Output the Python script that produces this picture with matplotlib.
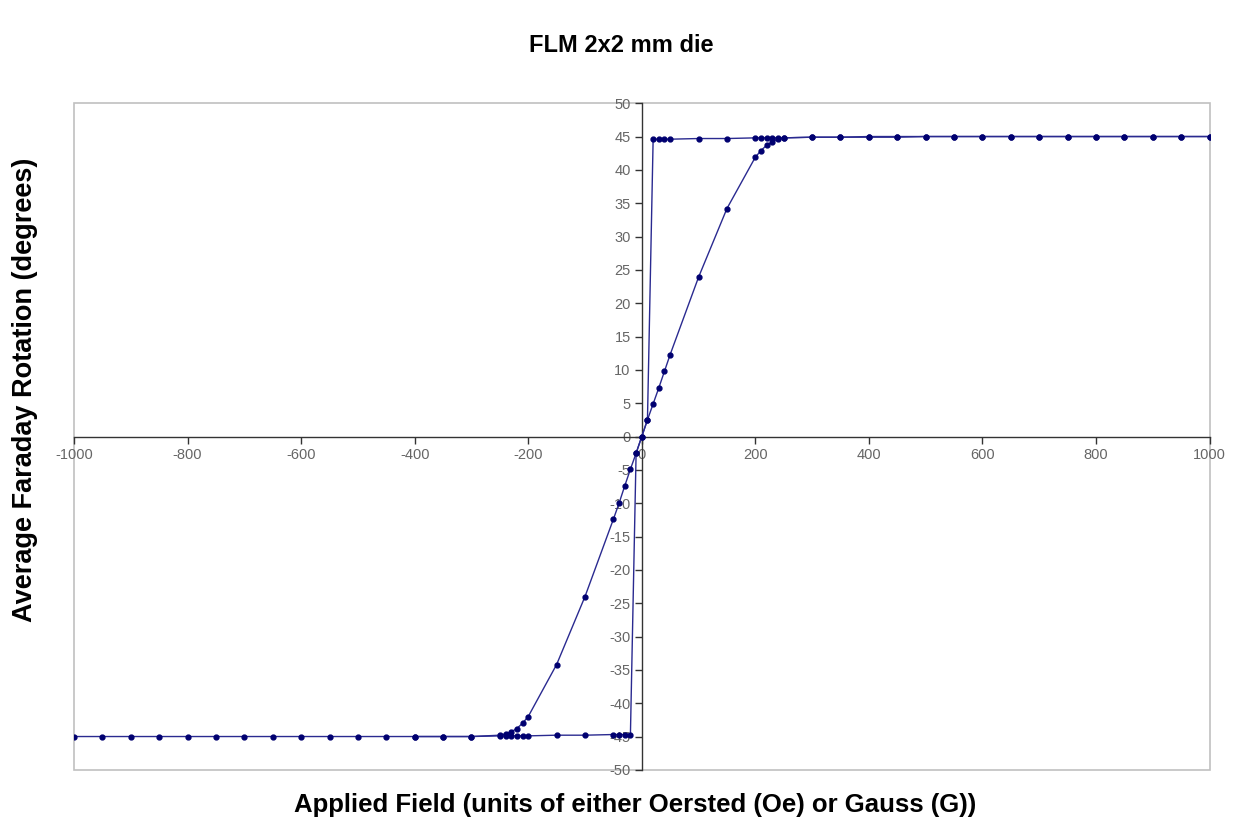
import numpy as np
import matplotlib
matplotlib.use('Agg')
import matplotlib.pyplot as plt
from matplotlib.patches import Rectangle

plt.rcParams['font.family'] = ['Liberation Sans', 'DejaVu Sans']
plt.rcParams['axes.unicode_minus'] = False

###############################################################################

# branch that follows the smooth curve through the origin (-1000 -> +1000)
curve_field = [-1000, -950, -900, -850, -800, -750, -700, -650, -600, -550,
               -500, -450, -400, -350, -300, -250, -240, -230, -220, -210,
               -200, -150, -100, -50, -40, -30, -20, -10, 0, 10, 20, 30, 40,
               50, 100, 150, 200, 210, 220, 230, 240, 250, 300, 350, 400,
               450, 500, 550, 600, 650, 700, 750, 800, 850, 900, 950, 1000]
curve_rot = [-45.0, -45.0, -45.0, -45.0, -45.0, -45.0, -45.0, -45.0, -45.0,
             -45.0, -45.0, -45.0, -45.0, -45.0, -45.0, -44.8, -44.6, -44.3,
             -43.8, -43.0, -42.0, -34.2, -24.0, -12.4, -10.0, -7.4, -4.9,
             -2.5, 0.0, 2.5, 4.9, 7.3, 9.8, 12.3, 23.9, 34.2, 41.9, 42.9,
             43.7, 44.2, 44.6, 44.8, 44.9, 44.9, 45.0, 45.0, 45.0, 45.0, 45.0,
             45.0, 45.0, 45.0, 45.0, 45.0, 45.0, 45.0, 45.0]

# branch that stays saturated then flips near zero field (+1000 -> -400)
step_field = [1000, 950, 900, 850, 800, 750, 700, 650, 600, 550, 500, 450,
              400, 350, 300, 250, 240, 230, 220, 210, 200, 150, 100, 50, 40,
              30, 20, 10, 0, -10, -20, -30, -40, -50, -100, -150, -200, -210,
              -220, -230, -240, -250, -300, -350, -400]
step_rot = [45.0, 45.0, 45.0, 45.0, 45.0, 45.0, 45.0, 45.0, 45.0, 45.0, 45.0,
            44.9, 44.9, 44.9, 44.9, 44.8, 44.8, 44.8, 44.8, 44.8, 44.8, 44.7,
            44.7, 44.6, 44.6, 44.6, 44.6, 2.5, 0.0, -2.5, -44.7, -44.7, -44.7,
            -44.7, -44.8, -44.8, -44.9, -44.9, -44.9, -44.9, -44.9, -44.9,
            -45.0, -45.0, -45.0]

x_ticks = np.arange(-1000, 1001, 200)
y_ticks = np.arange(-50, 51, 5)

###############################################################################

fig = plt.figure(figsize=(12.38, 8.19), dpi=100)
ax = fig.add_axes([0.0598, 0.060, 0.9172, 0.814])

line_color = '#2a2a90'
for fx, ry in [(curve_field, curve_rot), (step_field, step_rot)]:
    ax.plot(fx, ry, color=line_color, lw=1.0, marker='o', markersize=3.5,
            markerfacecolor='#000070', markeredgecolor='#000070', zorder=3)

ax.set_xlim(-1000, 1000)
ax.set_ylim(-50, 50)

# axes cross at the origin, outer plot frame in light gray
for side in ['top', 'right']:
    ax.spines[side].set_visible(False)
for side in ['left', 'bottom']:
    ax.spines[side].set_position(('data', 0))
    ax.spines[side].set_color('#333333')
    ax.spines[side].set_linewidth(1.0)
ax.add_patch(Rectangle((0, 0), 1, 1, transform=ax.transAxes, fill=False,
                       ec='#c0c0c0', lw=1.2, clip_on=False, zorder=0))

ax.set_xticks(x_ticks)
ax.set_yticks(y_ticks)
ax.tick_params(axis='both', direction='out', length=5, width=1,
               color='#333333', labelcolor='#666666', labelsize=10.5)
ax.tick_params(axis='x', pad=3)
ax.tick_params(axis='y', pad=3)

fig.text(0.502, 0.945, 'FLM 2x2 mm die', ha='center', va='center',
         fontsize=17, fontweight='bold')
fig.text(0.513, 0.017, 'Applied Field (units of either Oersted (Oe) or Gauss (G))',
         ha='center', va='center', fontsize=18.5, fontweight='bold')
fig.text(0.02, 0.524, 'Average Faraday Rotation (degrees)', ha='center',
         va='center', rotation=90, fontsize=19.5, fontweight='bold')

fig.savefig('out.png', dpi=100)
